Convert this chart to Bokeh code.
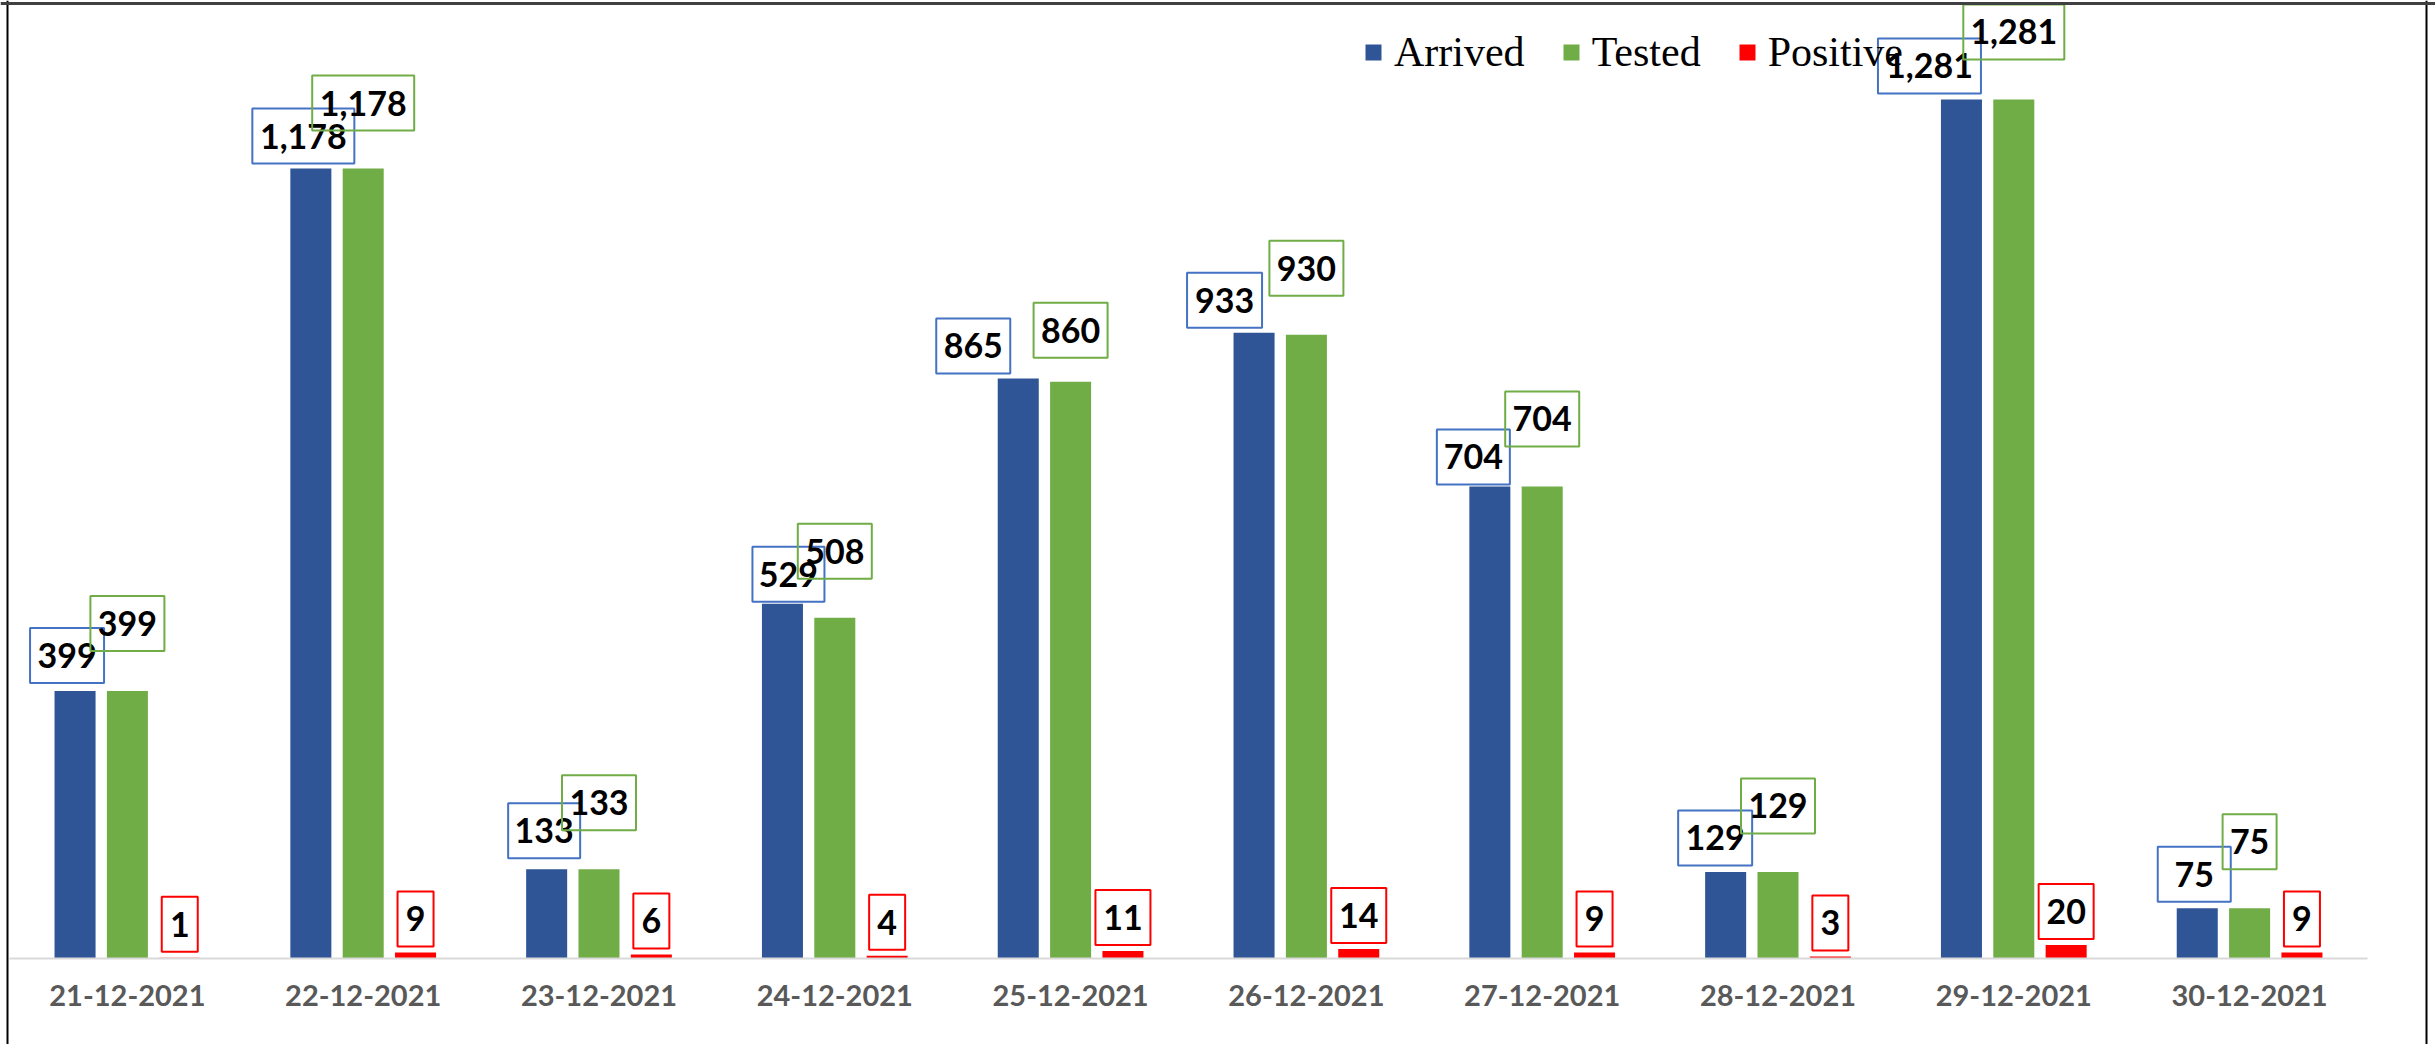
from bokeh.plotting import figure
from bokeh.models import (Range1d, LinearAxis, FixedTicker, Legend, LegendItem,
                          Span, ColumnDataSource)
from bokeh.embed import file_html
from bokeh.resources import INLINE
from bokeh.core.properties import value

# ---------------- data ----------------
dates = ["21-12-2021", "22-12-2021", "23-12-2021", "24-12-2021", "25-12-2021",
         "26-12-2021", "27-12-2021", "28-12-2021", "29-12-2021", "30-12-2021"]
arrived = [399, 1178, 133, 529, 865, 933, 704, 129, 1281, 75]
tested = [399, 1178, 133, 508, 860, 930, 704, 129, 1281, 75]
positive = [1, 9, 6, 4, 11, 14, 9, 3, 20, 9]

# ---------------- label layout (screen px) ----------------
arrived_dx = [-8, -7.5, -2.5, 6, -45, -29.5, -16.5, -10.5, -32, -3]
arrived_gap = [8, 5, 11, 2, 5, 5, 2, 6.5, 6, 6.5]
arrived_box_w = [74, 102, 72, 72, 74, 75, 73, 74, 103, 73]
tested_gap = [40, 38, 39, 39, 24, 39, 40, 38.5, 40, 39]
tested_box_w = [74, 102, 74, 74, 74, 74, 74, 74, 101, 54]
positive_gap = [6] * 10
positive_box_w = [36 if v < 10 else 55 for v in positive]
BOX_H = 55

C_BLUE, C_GREEN, C_RED = "#2F5597", "#70AD47", "#FF0000"
B_BLUE, B_GREEN, B_RED = "#4472C4", "#70AD47", "#FF0000"

W, H = 2435, 1044
X0 = 9                  # page x of category 0 left edge
Y0 = 958                # page y of the baseline
PX_X = 235.8            # px per category
PX_Y = 0.67057          # px per count
x_range = Range1d(-X0 / PX_X, (W - X0) / PX_X)
y_range = Range1d(-(H - Y0) / PX_Y, Y0 / PX_Y)

p = figure(width=W, height=H, x_range=x_range, y_range=y_range,
           output_backend="svg", toolbar_location=None,
           x_axis_location=None, y_axis_location=None,
           min_border=0, min_border_left=0, min_border_right=0,
           min_border_top=0, min_border_bottom=0)
p.outline_line_color = None
p.grid.visible = False
p.background_fill_color = "white"
p.border_fill_color = "white"

centers = [i + 0.5 for i in range(len(dates))]
DODGE = 0.222
BAR_W = 0.174

src = ColumnDataSource(dict(
    xa=[c - DODGE for c in centers], xt=centers, xp=[c + DODGE for c in centers],
    arrived=arrived, tested=tested, positive=positive))

ra = p.vbar(x="xa", top="arrived", width=BAR_W, source=src, fill_color=C_BLUE, line_color=None)
rt = p.vbar(x="xt", top="tested", width=BAR_W, source=src, fill_color=C_GREEN, line_color=None)
rp = p.vbar(x="xp", top="positive", width=BAR_W, source=src, fill_color=C_RED, line_color=None)


def labels(xs, vals, dxs, gaps, widths, border):
    bx = [x + dx / PX_X for x, dx in zip(xs, dxs)]
    by = [v + (g + BOX_H / 2) / PX_Y for v, g in zip(vals, gaps)]
    s = ColumnDataSource(dict(x=bx, y=by, w=widths,
                              t=["{:,}".format(v) for v in vals]))
    p.rect(x="x", y="y", width="w", height=BOX_H, width_units="screen",
           height_units="screen", source=s, fill_color=None,
           line_color=border, line_width=2)
    p.text(x="x", y="y", text="t", source=s, text_align="center",
           text_baseline="middle", text_font=value("Lato"),
           text_font_style="bold", text_font_size="34px", text_color="black")


labels([c - DODGE for c in centers], arrived, arrived_dx, arrived_gap, arrived_box_w, B_BLUE)
labels(centers, tested, [0] * 10, tested_gap, tested_box_w, B_GREEN)
labels([c + DODGE for c in centers], positive, [0] * 10, positive_gap, positive_box_w, B_RED)

# x axis with date labels, at y = 0 inside the frame
xaxis = LinearAxis(fixed_location=0,
                   ticker=FixedTicker(ticks=centers),
                   major_label_overrides={c: d for c, d in zip(centers, dates)},
                   bounds=(0, len(dates)))
xaxis.axis_line_color = "#D9D9D9"
xaxis.axis_line_width = 2
xaxis.major_tick_line_color = None
xaxis.minor_tick_line_color = None
xaxis.major_label_text_font = "Lato"
xaxis.major_label_text_font_style = "bold"
xaxis.major_label_text_font_size = "29px"
xaxis.major_label_text_color = "#595959"
xaxis.major_label_standoff = 20
p.add_layout(xaxis, "below")

# outer chart border
p.add_layout(Span(location=(7 - X0) / PX_X, dimension="height",
                  line_color="black", line_width=2))
p.add_layout(Span(location=(2426 - X0) / PX_X, dimension="height",
                  line_color="black", line_width=2))
p.add_layout(Span(location=(Y0 - 3) / PX_Y, dimension="width",
                  line_color="#404040", line_width=3))

legend = Legend(items=[LegendItem(label="Arrived", renderers=[ra]),
                       LegendItem(label="Tested", renderers=[rt]),
                       LegendItem(label="Positive", renderers=[rp])],
                orientation="horizontal", location=(1363, H - 28 - 48),
                glyph_width=20, glyph_height=20, label_standoff=11, spacing=36,
                padding=0, margin=0, border_line_color=None,
                background_fill_alpha=0,
                label_text_font="Liberation Serif", label_text_font_size="42px",
                label_text_color="black", label_height=48)
p.add_layout(legend, "center")

open("out.html", "w").write(file_html(p, INLINE))
